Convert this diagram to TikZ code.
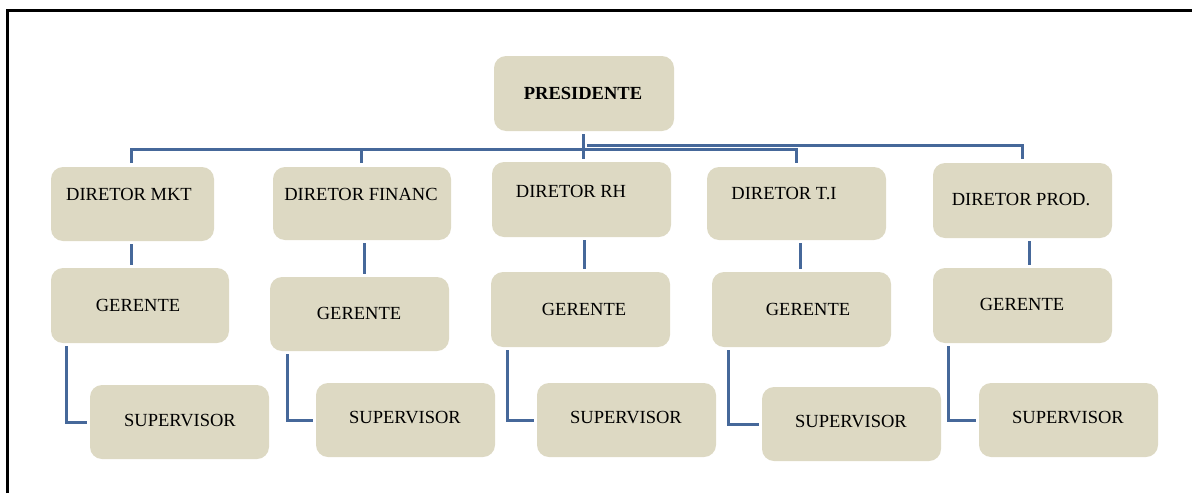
\documentclass[tikz,border=0pt]{standalone}
\usepackage{fontspec}
\setmainfont{Liberation Serif}
\definecolor{boxfill}{RGB}{221,217,195}
\definecolor{connblue}{RGB}{70,104,154}
\begin{document}
\begin{tikzpicture}[x=1pt,y=-1pt,
  orgbox/.style={fill=boxfill, draw=none, rounded corners=12pt, inner sep=0pt},
  lbl/.style={font=\fontsize{18.5}{21}\selectfont, inner sep=0pt},
  conn/.style={draw=connblue, line width=3pt},
  gap/.style={shorten <=3pt, shorten >=3pt}]
\useasboundingbox (0,0) rectangle (1192,493);
% frame (top and left edges)
\draw[line width=3pt] (7,493) -- (7,10) -- (1192,10);
% boxes
\newcommand{\orgb}[5]{\node[orgbox, minimum width=#4pt, minimum height=#5pt] (#1) at (#2,#3) {};}
\orgb{p}{584}{93.5}{180}{75}
\orgb{d1}{132.5}{204}{163}{74}
\orgb{d2}{362}{203.5}{178}{73}
\orgb{d3}{581.5}{199.5}{179}{75}
\orgb{d4}{796.5}{203.5}{179}{73}
\orgb{d5}{1022.5}{200.5}{179}{75}
\orgb{g1}{140}{305.5}{178}{75}
\orgb{g2}{359.5}{314}{179}{74}
\orgb{g3}{580.5}{309.5}{179}{75}
\orgb{g4}{801.5}{309.5}{179}{75}
\orgb{g5}{1022.5}{305.5}{179}{75}
\orgb{s1}{179.5}{422}{179}{74}
\orgb{s2}{405.5}{420}{179}{74}
\orgb{s3}{626.5}{420}{179}{74}
\orgb{s4}{851.5}{424}{179}{74}
\orgb{s5}{1068.5}{420}{179}{74}
% labels
\node[lbl, font=\fontsize{18.5}{21}\selectfont\bfseries] (tp) at (583,93) {PRESIDENTE};
\node[lbl] (td1) at (129,194) {DIRETOR MKT};
\node[lbl] (td2) at (361,194) {DIRETOR FINANC};
\node[lbl] (td3) at (571,191) {DIRETOR RH};
\node[lbl] (td4) at (784,194) {DIRETOR T.I};
\node[lbl] (td5) at (1021,200) {DIRETOR PROD.};
\node[lbl] (tg1) at (138,305) {GERENTE};
\node[lbl] (tg2) at (359,313) {GERENTE};
\node[lbl] (tg3) at (584,309) {GERENTE};
\node[lbl] (tg4) at (808,309) {GERENTE};
\node[lbl] (tg5) at (1022,304) {GERENTE};
\node[lbl] (ts1) at (180,421) {SUPERVISOR};
\node[lbl] (ts2) at (405,418) {SUPERVISOR};
\node[lbl] (ts3) at (626,418) {SUPERVISOR};
\node[lbl] (ts4) at (851,422) {SUPERVISOR};
\node[lbl] (ts5) at (1068,418) {SUPERVISOR};
% bus coordinates
\coordinate (busA) at (583,149);
\coordinate (busB) at (587,145);
% president stem to director RH
\draw[conn, gap] (p.south -| busA) -- (busA |- d3.north);
% left bus
\draw[conn, shorten <=4pt] ([xshift=-1.5pt]d1.north) |- (busA);
\draw[conn, shorten <=4pt] ([xshift=-1pt]d2.north) -- ([xshift=-1pt]d2.north |- busA);
\draw[conn, shorten <=4pt] (d4.north) |- (busA);
\draw[conn, shorten <=4pt] (d5.north) |- (busB);
% director to gerente
\draw[conn, gap] ([xshift=-1.5pt]d1.south) -- ([xshift=-1.5pt]d1.south |- g1.north);
\draw[conn, gap] ([xshift=2pt]d2.south) -- ([xshift=2pt]d2.south |- g2.north);
\draw[conn, gap] ([xshift=2.5pt]d3.south) -- ([xshift=2.5pt]d3.south |- g3.north);
\draw[conn, gap] ([xshift=3.5pt]d4.south) -- ([xshift=3.5pt]d4.south |- g4.north);
\draw[conn, gap] ([xshift=6.5pt]d5.south) -- ([xshift=6.5pt]d5.south |- g5.north);
% gerente to supervisor
\draw[conn, gap] ([xshift=16pt]g1.south west) |- (s1.west);
\draw[conn, gap] ([xshift=18pt]g2.south west) |- (s2.west);
\draw[conn, gap] ([xshift=17pt]g3.south west) |- (s3.west);
\draw[conn, gap] ([xshift=17pt]g4.south west) |- (s4.west);
\draw[conn, gap] ([xshift=16pt]g5.south west) |- (s5.west);
\end{tikzpicture}
\end{document}
